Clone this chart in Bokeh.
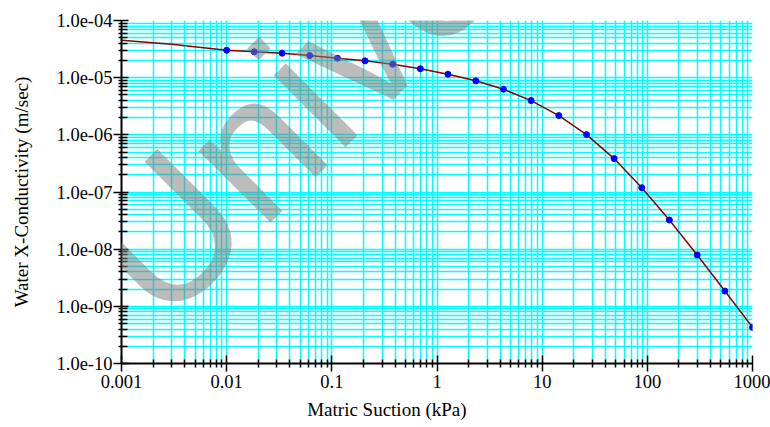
import math
from bokeh.plotting import figure
from bokeh.models import FixedTicker, Label, ColumnDataSource, Title
from bokeh.embed import file_html
from bokeh.resources import INLINE

# ---- data ----
suction_kpa = [0.01, 0.0183, 0.0336, 0.0616, 0.113, 0.207, 0.379, 0.695, 1.27, 2.34,
               4.28, 7.85, 14.4, 26.4, 48.3, 88.6, 162, 298, 546, 1000]
conductivity = [3.02e-5, 2.83e-5, 2.68e-5, 2.44e-5, 2.19e-5, 1.97e-5, 1.72e-5, 1.43e-5,
                1.15e-5, 8.8e-6, 6.27e-6, 3.97e-6, 2.17e-6, 1.01e-6, 3.84e-7, 1.19e-7,
                3.24e-8, 7.9e-9, 1.85e-9, 4.28e-10]
# fitted curve: extends to the left edge of the chart
curve_x_head = [0.001, 0.003]
curve_y_head = [4.52e-5, 3.85e-5]

x_ticks = [0.001, 0.01, 0.1, 1, 10, 100, 1000]
x_tick_labels = ["0.001", "0.01", "0.1", "1", "10", "100", "1000"]
y_ticks = [1e-10, 1e-9, 1e-8, 1e-7, 1e-6, 1e-5, 1e-4]
y_tick_labels = ["1.0e-10", "1.0e-09", "1.0e-08", "1.0e-07", "1.0e-06", "1.0e-05", "1.0e-04"]
minor_mult = [2, 3, 4, 5, 6, 7, 8, 9]

x_title = "Matric Suction (kPa)"
y_title = "Water X-Conductivity (m/sec)"
watermark = "v University"

# ---- layout (pixels) ----
LEFT, TOP, FW, FH = 121, 20, 631, 343
W, H = 770, 427
FONT = "Liberation Serif"
GRID = "#00FFFF"

p = figure(x_axis_type="log", y_axis_type="log",
           x_range=(x_ticks[0], x_ticks[-1]), y_range=(y_ticks[0], y_ticks[-1]),
           frame_width=FW, frame_height=FH,
           min_border_left=LEFT, min_border_right=W - LEFT - FW,
           min_border_top=TOP, min_border_bottom=H - TOP - FH,
           output_backend="svg", toolbar_location=None)
p.outline_line_color = None
p.background_fill_color = "white"
p.border_fill_color = "white"

x_minor = [m * t for t in x_ticks[:-1] for m in minor_mult]
y_minor = [m * t for t in y_ticks[:-1] for m in minor_mult]
p.xaxis.ticker = FixedTicker(ticks=x_ticks, minor_ticks=x_minor)
p.yaxis.ticker = FixedTicker(ticks=y_ticks, minor_ticks=y_minor)
p.xaxis.major_label_overrides = {t: l for t, l in zip(x_ticks, x_tick_labels)}
p.yaxis.major_label_overrides = {t: l for t, l in zip(y_ticks, y_tick_labels)}

for g in (p.xgrid, p.ygrid):
    g.grid_line_color = GRID
    g.grid_line_width = 1.5
    g.minor_grid_line_color = GRID
    g.minor_grid_line_width = 1.5

for ax in (p.xaxis, p.yaxis):
    ax.axis_line_color = "black"
    ax.axis_line_width = 2
    ax.major_tick_line_color = "black"
    ax.minor_tick_line_color = "black"
    ax.major_tick_line_width = 1.5
    ax.minor_tick_line_width = 1.5
    ax.major_label_text_font = FONT
    ax.major_label_text_font_size = "18.5px"
    ax.major_label_text_color = "black"

p.xaxis.major_label_standoff = 3
p.yaxis.major_label_standoff = 1
p.xaxis.major_tick_in = 8
p.xaxis.major_tick_out = 8
p.xaxis.minor_tick_in = 4
p.xaxis.minor_tick_out = 4
p.yaxis.major_tick_in = 7
p.yaxis.major_tick_out = 8
p.yaxis.minor_tick_in = 6
p.yaxis.minor_tick_out = 3

# y title as the axis' own label
p.yaxis.axis_label = y_title
p.yaxis.axis_label_standoff = 22
p.yaxis.axis_label_text_font = FONT
p.yaxis.axis_label_text_font_size = "19px"
p.yaxis.axis_label_text_font_style = "normal"
p.yaxis.axis_label_text_color = "black"

# curve and data points
curve = ColumnDataSource(dict(x=curve_x_head + suction_kpa, y=curve_y_head + conductivity))
pts = ColumnDataSource(dict(x=suction_kpa, y=conductivity))
p.line("x", "y", source=curve, line_color="#8B0000", line_width=1.5)
p.scatter("x", "y", source=pts, size=6, fill_color="#0000FF", line_color="#0000FF")

# x title as a side title (offset so it is centred on the page like the original)
p.add_layout(Title(text=x_title, align="left", offset=185.7, standoff=12,
                   vertical_align="bottom",
                   text_font=FONT, text_font_size="19px", text_font_style="normal",
                   text_color="black"), "below")


# helpers: canvas pixel -> data position (through the plot's own log scales)
def px_to_x(px):
    lo, hi = math.log10(x_ticks[0]), math.log10(x_ticks[-1])
    return 10 ** (lo + (px - LEFT) / FW * (hi - lo))


def py_to_y(py):
    lo, hi = math.log10(y_ticks[0]), math.log10(y_ticks[-1])
    return 10 ** (hi - (py - TOP) / FH * (hi - lo))


# watermark
p.add_layout(Label(x=px_to_x(9.8), y=py_to_y(388.0), text=watermark,
                   text_font="Liberation Sans", text_font_size="192px", text_align="left",
                   text_baseline="alphabetic", angle=math.pi / 4,
                   text_color="#808080", text_alpha=0.53))

open("out.html", "w").write(file_html(p, INLINE))
